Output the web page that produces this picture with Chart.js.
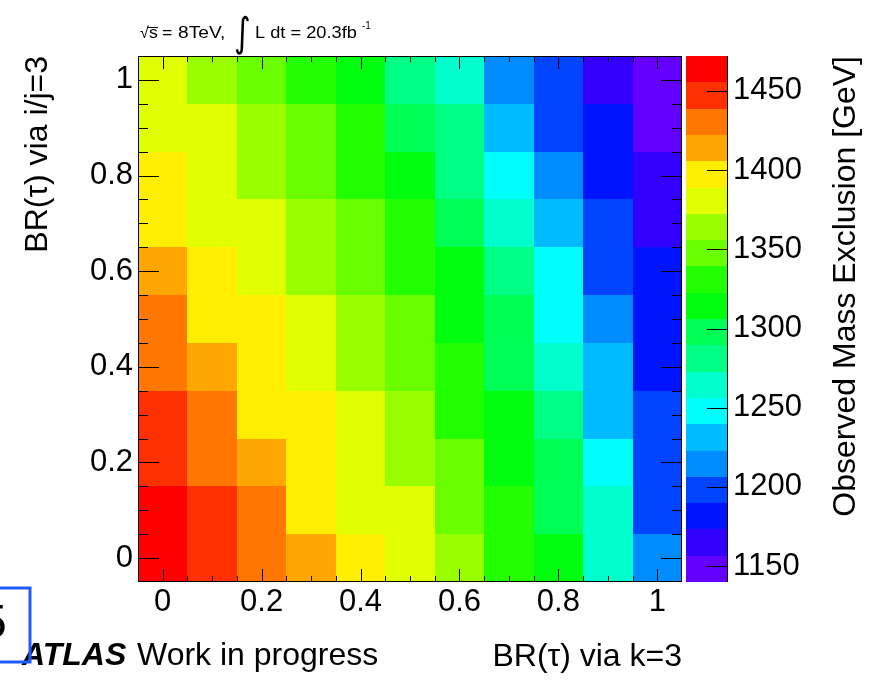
<!DOCTYPE html>
<html lang="en">
<head>
  <meta charset="UTF-8" />
  <script src="https://cdn.jsdelivr.net/npm/chart.js"></script>
  <style>
    body { margin: 0; background: #fff; }
  </style>
</head>
<body>
  <canvas id="limitChart" width="870" height="680"></canvas>

  <script>
    // bin centres: BR(tau) via k=3 on x, BR(tau) via i/j=3 on y
    const brK = [0, 0.1, 0.2, 0.3, 0.4, 0.5, 0.6, 0.7, 0.8, 0.9, 1.0];
    const brIJ = [0, 0.1, 0.2, 0.3, 0.4, 0.5, 0.6, 0.7, 0.8, 0.9, 1.0];
    const binWidth = 0.1;

    // observed mass exclusion [GeV], one array per BR(tau) via i/j=3 row
    const limitsIJ00 = [1472, 1447, 1430, 1414, 1397, 1381, 1364, 1331, 1314, 1264, 1215];
    const limitsIJ01 = [1464, 1447, 1430, 1397, 1381, 1381, 1347, 1331, 1298, 1264, 1198];
    const limitsIJ02 = [1447, 1430, 1414, 1397, 1381, 1364, 1347, 1314, 1298, 1248, 1198];
    const limitsIJ03 = [1447, 1430, 1397, 1397, 1381, 1364, 1331, 1314, 1281, 1231, 1198];
    const limitsIJ04 = [1430, 1414, 1397, 1381, 1364, 1347, 1331, 1298, 1264, 1231, 1181];
    const limitsIJ05 = [1430, 1397, 1397, 1381, 1364, 1347, 1314, 1298, 1248, 1215, 1181];
    const limitsIJ06 = [1414, 1397, 1381, 1364, 1347, 1331, 1314, 1281, 1248, 1198, 1181];
    const limitsIJ07 = [1397, 1381, 1381, 1364, 1347, 1331, 1298, 1264, 1231, 1198, 1165];
    const limitsIJ08 = [1397, 1381, 1364, 1347, 1331, 1314, 1281, 1248, 1215, 1181, 1165];
    const limitsIJ09 = [1381, 1381, 1364, 1347, 1331, 1298, 1281, 1231, 1198, 1181, 1148];
    const limitsIJ10 = [1381, 1364, 1347, 1331, 1314, 1281, 1264, 1215, 1198, 1165, 1140];
    const limitRows = [limitsIJ00, limitsIJ01, limitsIJ02, limitsIJ03, limitsIJ04, limitsIJ05,
                       limitsIJ06, limitsIJ07, limitsIJ08, limitsIJ09, limitsIJ10];

    const axisTicks = [0, 0.2, 0.4, 0.6, 0.8, 1];
    const axisTickLabels = ['0', '0.2', '0.4', '0.6', '0.8', '1'];
    const zTicks = [1150, 1200, 1250, 1300, 1350, 1400, 1450];

    // ROOT "pretty" palette, 20 contour levels
    const palette = [
      '#6300ff', '#3300ff', '#0014ff', '#0044ff', '#008bff', '#00bbff', '#00fffc',
      '#00ffcc', '#00ff85', '#00ff55', '#00ff0e', '#22ff00', '#69ff00', '#99ff00',
      '#e0ff00', '#ffee00', '#ffa700', '#ff7700', '#ff3000', '#ff0000'
    ];

    const font = "'Liberation Sans', Arial, Helvetica, sans-serif";
    const allLimits = limitRows.flat();
    const zMin = Math.min(...allLimits);
    const zMax = Math.max(...allLimits);
    const lo = brK[0] - binWidth / 2;
    const hi = brK[brK.length - 1] + binWidth / 2;

    const cells = [];
    limitRows.forEach((row, j) => row.forEach((v, i) => cells.push({ x: brK[i], y: brIJ[j], v })));

    function colourFor(v) {
      const k = Math.floor((v - zMin) / (zMax - zMin) * palette.length);
      return palette[Math.max(0, Math.min(palette.length - 1, k))];
    }

    // text stretched sideways a little, like the ROOT latex label
    function wideText(ctx, str, x, y, sx) {
      ctx.save();
      ctx.translate(x, y);
      ctx.scale(sx, 1);
      ctx.fillText(str, 0, 0);
      ctx.restore();
    }

    const heatmap = {
      id: 'heatmap',
      beforeDatasetsDraw(chart) {
        const { ctx, scales: { x, y, z } } = chart;
        ctx.save();
        chart.data.datasets[0].data.forEach(c => {
          const x0 = Math.round(x.getPixelForValue(c.x - binWidth / 2));
          const x1 = Math.round(x.getPixelForValue(c.x + binWidth / 2));
          const y0 = Math.round(y.getPixelForValue(c.y - binWidth / 2));
          const y1 = Math.round(y.getPixelForValue(c.y + binWidth / 2));
          ctx.fillStyle = colourFor(c.v);
          ctx.fillRect(x0, y1, x1 - x0, y0 - y1);
        });

        // colour bar
        const barL = z.left + 4, barR = z.left + 45;
        const dz = (zMax - zMin) / palette.length;
        palette.forEach((col, k) => {
          const b = Math.round(z.getPixelForValue(zMin + k * dz));
          const t = Math.round(z.getPixelForValue(zMin + (k + 1) * dz));
          ctx.fillStyle = col;
          ctx.fillRect(barL, t, barR - barL, b - t);
        });
        ctx.strokeStyle = '#000';
        ctx.lineWidth = 1;
        ctx.beginPath();
        ctx.moveTo(barR + 0.5, z.top);
        ctx.lineTo(barR + 0.5, z.bottom);
        zTicks.forEach(v => {
          const p = Math.round(z.getPixelForValue(v)) + 0.5;
          ctx.moveTo(barR, p);
          ctx.lineTo(barR - 20, p);
        });
        ctx.stroke();
        ctx.restore();
      },
      afterDatasetsDraw(chart) {
        const { ctx, chartArea: a, scales: { x, y } } = chart;
        ctx.save();
        ctx.strokeStyle = '#000';
        ctx.lineWidth = 1;
        ctx.beginPath();
        for (let i = 0; i <= 20; i++) {
          const t = i * 0.05;
          const major = i % 4 === 0;
          const px = Math.round(x.getPixelForValue(t)) + 0.5;
          const lx = major ? 13 : 6;
          ctx.moveTo(px, a.bottom); ctx.lineTo(px, a.bottom - lx);
          ctx.moveTo(px, a.top); ctx.lineTo(px, a.top + lx);
          const py = Math.round(y.getPixelForValue(t)) + 0.5;
          const ly = major ? 21 : 10;
          ctx.moveTo(a.left, py); ctx.lineTo(a.left + ly, py);
          ctx.moveTo(a.right, py); ctx.lineTo(a.right - ly, py);
        }
        ctx.stroke();
        ctx.strokeRect(a.left + 0.5, a.top + 0.5, a.right - a.left - 1, a.bottom - a.top - 1);
        ctx.restore();
      },
      afterDraw(chart) {
        const { ctx, chartArea: a } = chart;
        ctx.save();
        ctx.fillStyle = '#000';
        ctx.textBaseline = 'alphabetic';
        ctx.textAlign = 'left';

        // z axis title, reading bottom to top
        ctx.save();
        ctx.translate(855, a.top);
        ctx.rotate(-Math.PI / 2);
        ctx.textAlign = 'right';
        ctx.font = `32px ${font}`;
        ctx.fillText('Observed Mass Exclusion [GeV]', 0, 0);
        ctx.restore();

        // energy / luminosity label
        ctx.font = `16px ${font}`;
        wideText(ctx, '\u221a', 140, 38, 1.0);
        wideText(ctx, 's', 149, 38, 1.1);
        ctx.fillRect(147, 27, 11, 1);
        wideText(ctx, '=', 162, 38, 1.1);
        wideText(ctx, '8TeV,', 178, 38, 1.2);
        wideText(ctx, 'L dt = 20.3fb', 255, 38, 1.14);
        ctx.font = `10px ${font}`;
        ctx.fillText('-1', 362, 29);
        ctx.font = `40px 'DejaVu Sans', ${font}`;
        wideText(ctx, '\u222b', 234, 46, 0.8);

        // bottom-left label
        ctx.font = `italic bold 32px ${font}`;
        ctx.fillText('ATLAS', 22, 665);
        ctx.font = `32px ${font}`;
        ctx.fillText('Work in progress', 137, 665);

        // slide number box cut at the page edge
        ctx.font = `48px ${font}`;
        ctx.fillText('5', -20, 638);
        ctx.strokeStyle = '#1f5cff';
        ctx.lineWidth = 3;
        ctx.strokeRect(-5, 588, 35, 74);
        ctx.restore();
      }
    };

    new Chart(document.getElementById('limitChart'), {
      type: 'scatter',
      data: {
        datasets: [{
          label: 'Observed Mass Exclusion [GeV]',
          data: cells,
          pointRadius: 0,
          pointHoverRadius: 0,
        }],
      },
      options: {
        responsive: false,
        animation: false,
        events: [],
        layout: { padding: { top: 56, left: 0, right: 0, bottom: 0 } },
        plugins: { legend: { display: false }, tooltip: { enabled: false } },
        scales: {
          x: {
            type: 'linear', position: 'bottom', min: lo, max: hi,
            afterFit: s => { s.height = 98; },
            afterBuildTicks: s => { s.ticks = axisTicks.map(v => ({ value: v })); },
            grid: { display: false, drawTicks: false },
            border: { display: false },
            ticks: {
              padding: 2, maxRotation: 0, autoSkip: false, color: '#000',
              font: { family: font, size: 31 },
              callback: (v, i) => axisTickLabels[i],
            },
            title: {
              display: true, text: 'BR(\u03c4) via k=3', align: 'end', color: '#000',
              font: { family: font, size: 32 }, padding: { top: 0, bottom: 4 },
            },
          },
          y: {
            type: 'linear', position: 'left', min: lo, max: hi,
            afterFit: s => { s.width = 138; },
            afterBuildTicks: s => { s.ticks = axisTicks.map(v => ({ value: v })); },
            grid: { display: false, drawTicks: false },
            border: { display: false },
            ticks: {
              padding: 5, autoSkip: false, color: '#000',
              font: { family: font, size: 31 },
              callback: (v, i) => axisTickLabels[i],
            },
            title: {
              display: true, text: 'BR(\u03c4) via i/j=3', align: 'end', color: '#000',
              font: { family: font, size: 32 }, padding: { top: 19, bottom: 0 },
            },
          },
          z: {
            type: 'linear', position: 'right', min: zMin, max: zMax,
            afterFit: s => { s.width = 188; },
            afterBuildTicks: s => { s.ticks = zTicks.map(v => ({ value: v })); },
            grid: {
              display: true, drawOnChartArea: false, drawTicks: true,
              tickLength: 45, tickColor: 'rgba(0,0,0,0)', color: 'rgba(0,0,0,0)',
            },
            border: { display: false },
            ticks: {
              padding: 6, autoSkip: false, color: '#000',
              font: { family: font, size: 31 },
              callback: v => String(v),
            },
          },
        },
      },
      plugins: [heatmap],
    });
  </script>
</body>
</html>
